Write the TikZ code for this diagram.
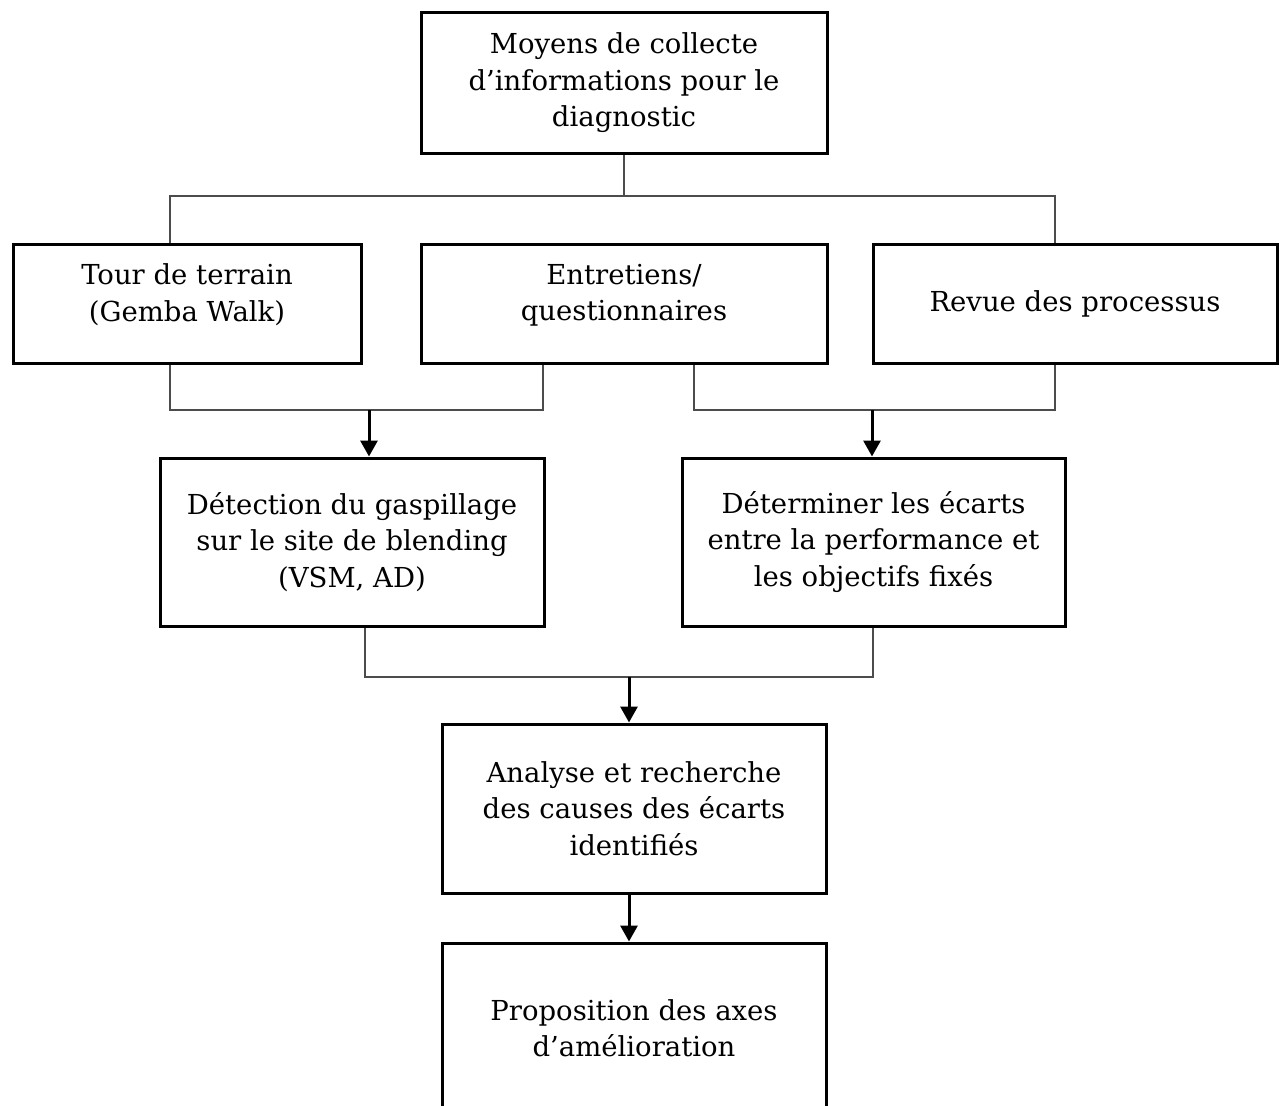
\documentclass[tikz,border=0pt]{standalone}
\usepackage{fontspec}
\setmainfont{DejaVu Serif}
\usetikzlibrary{arrows.meta}
\begin{document}
\begin{tikzpicture}[x=1pt,y=-1pt,
  box/.style={draw=black, line width=3pt, align=center, inner sep=0pt,
    font=\fontsize{27.5}{36.5}\selectfont},
  link/.style={draw=black!70, line width=1.5pt},
  flow/.style={draw=black, line width=3pt, -{Triangle[width=17pt,length=16pt]}}]
\useasboundingbox (0,0) rectangle (1283,1106);

% boxes
\node[box, minimum width=406pt, minimum height=141pt] (top) at (624,83)
  {Moyens de collecte\\d’informations pour le\\diagnostic};
\node[box, minimum width=348pt, minimum height=119pt, text depth=22pt] (tour) at (187,303.5)
  {Tour de terrain\\(Gemba Walk)};
\node[box, minimum width=406pt, minimum height=119pt, text depth=22pt] (entre) at (624,303.5)
  {Entretiens/\\questionnaires};
\node[box, minimum width=404pt, minimum height=119pt] (revue) at (1075,303.5)
  {Revue des processus};
\node[box, minimum width=384pt, minimum height=168pt] (detect) at (352,542)
  {Détection du gaspillage\\sur le site de blending\\(VSM, AD)};
\node[box, minimum width=383pt, minimum height=168pt] (determ) at (873.5,542)
  {Déterminer les écarts\\entre la performance et\\les objectifs fixés};
\node[box, minimum width=384pt, minimum height=169pt] (analyse) at (634,808.5)
  {Analyse et recherche\\des causes des écarts\\identifiés};
\node[box, minimum width=384pt, minimum height=170pt] (prop) at (634,1028)
  {Proposition des axes\\d’amélioration};

% junction points of the connectors
\coordinate (a1) at (624,196);
\coordinate (tl) at (170,196);
\coordinate (tr) at (1055,196);
\coordinate (bl) at (170,410);
\coordinate (bm) at (543,410);
\coordinate (b1) at (369,410);
\coordinate (br1) at (694,410);
\coordinate (br2) at (1055,410);
\coordinate (b2) at (872,410);
\coordinate (cl) at (365,677);
\coordinate (cr) at (873,677);
\coordinate (c1) at (629,677);

% connectors
\draw[link] (top.south) -- (a1);
\draw[link] (tl |- tour.north) -- (tl) -- (tr) -- (tr |- revue.north);
\draw[link] (bl |- tour.south) -- (bl) -- (bm) -- (bm |- entre.south);
\draw[link] (br1 |- entre.south) -- (br1) -- (br2) -- (br2 |- revue.south);
\draw[link] (cl |- detect.south) -- (cl) -- (cr) -- (cr |- determ.south);

% arrows
\draw[flow] (b1) -- (b1 |- detect.north);
\draw[flow] (b2) -- (b2 |- determ.north);
\draw[flow] (c1) -- (c1 |- analyse.north);
\draw[flow] (analyse.south -| c1) -- (prop.north -| c1);
\end{tikzpicture}
\end{document}
